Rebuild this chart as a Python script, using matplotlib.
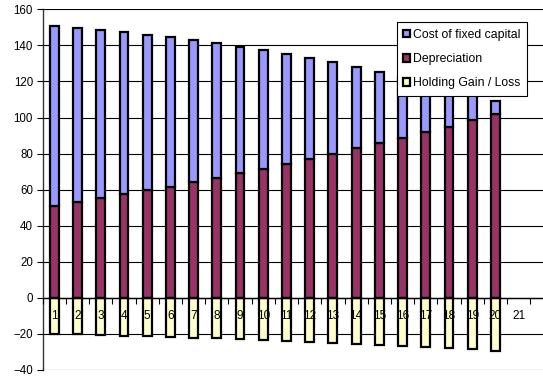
import matplotlib.pyplot as plt
import numpy as np

plt.rcParams['font.family'] = ['Liberation Sans', 'DejaVu Sans']

years = list(range(1, 21))
depreciation = [50.7, 52.9, 55.1, 57.3, 59.5, 61.5, 64.1, 66.3, 69.1, 71.4,
                74.0, 77.2, 80.0, 83.2, 86.0, 88.8, 91.9, 95.0, 98.7, 101.8]
cost_fixed = [100.3, 97.0, 93.5, 90.0, 86.5, 83.1, 78.8, 75.0, 70.1, 65.8,
              61.2, 55.6, 50.6, 44.6, 39.2, 33.5, 27.3, 21.0, 14.0, 7.4]
holding = [-20.0, -20.4, -20.7, -21.1, -21.5, -21.9, -22.2, -22.6, -23.0, -23.7,
           -24.1, -24.4, -25.2, -25.7, -26.1, -26.7, -27.2, -27.8, -28.3, -29.3]
xlabels = [str(i) for i in range(1, 22)]
yticks = list(range(-40, 161, 20))

fig = plt.figure(figsize=(5.43, 3.76), dpi=100)
ax = fig.add_axes([0.0786, 0.0165, 0.93, 0.9585])

w = 0.38
ew = 1.6
ax.bar(years, depreciation, w, color='#993366', edgecolor='black', linewidth=ew,
       label='Depreciation', zorder=2)
ax.bar(years, cost_fixed, w, bottom=depreciation, color='#9999FF', edgecolor='black',
       linewidth=ew, label='Cost of fixed capital', zorder=2)
ax.bar(years, holding, w, color='#FFFFCC', edgecolor='black', linewidth=ew,
       label='Holding Gain / Loss', zorder=2)

# gridlines behind the bars, axis (and its labels) in front
for v in yticks:
    ax.axhline(v, color='black', linewidth=0.8, zorder=1)
ax.set_axisbelow(False)

ax.set_ylim(-40, 160)
ax.set_xlim(0.5, 22.25)
ax.set_yticks(yticks)

# category axis sits on the zero line
ax.spines['bottom'].set_position(('data', 0))
ax.spines['bottom'].set_linewidth(1.0)
ax.spines['left'].set_linewidth(1.0)
ax.spines['left'].set_color('#333333')
ax.spines['top'].set_visible(False)
ax.spines['right'].set_visible(False)
ax.set_xticks(range(1, 22))
ax.set_xticklabels(xlabels, fontsize=8.5)
ax.set_xticks(np.arange(0.5, 22, 1), minor=True)
ax.tick_params(axis='x', which='major', length=0, pad=9)
ax.tick_params(axis='x', which='minor', length=4, width=0.8, direction='out')
ax.tick_params(axis='y', length=4, width=0.8, labelsize=8.3, pad=3)

fig.text(300 / 543, 1.006, 'Total costs', ha='center', va='baseline',
         fontsize=12, color='#555555')

h, l = ax.get_legend_handles_labels()
order = [1, 0, 2]
leg = ax.legend([h[i] for i in order], [l[i] for i in order],
                loc='upper left', bbox_to_anchor=(396.7 / 543, 1 - 22.3 / 376),
                bbox_transform=fig.transFigure, fontsize=8.8, frameon=True,
                fancybox=False, framealpha=1, edgecolor='black',
                handlelength=0.55, handleheight=0.55, handletextpad=0.25,
                labelspacing=1.0, borderpad=0.55, borderaxespad=0)
leg.get_frame().set_linewidth(0.8)
leg.set_zorder(10)

fig.savefig('out.png', dpi=100)
